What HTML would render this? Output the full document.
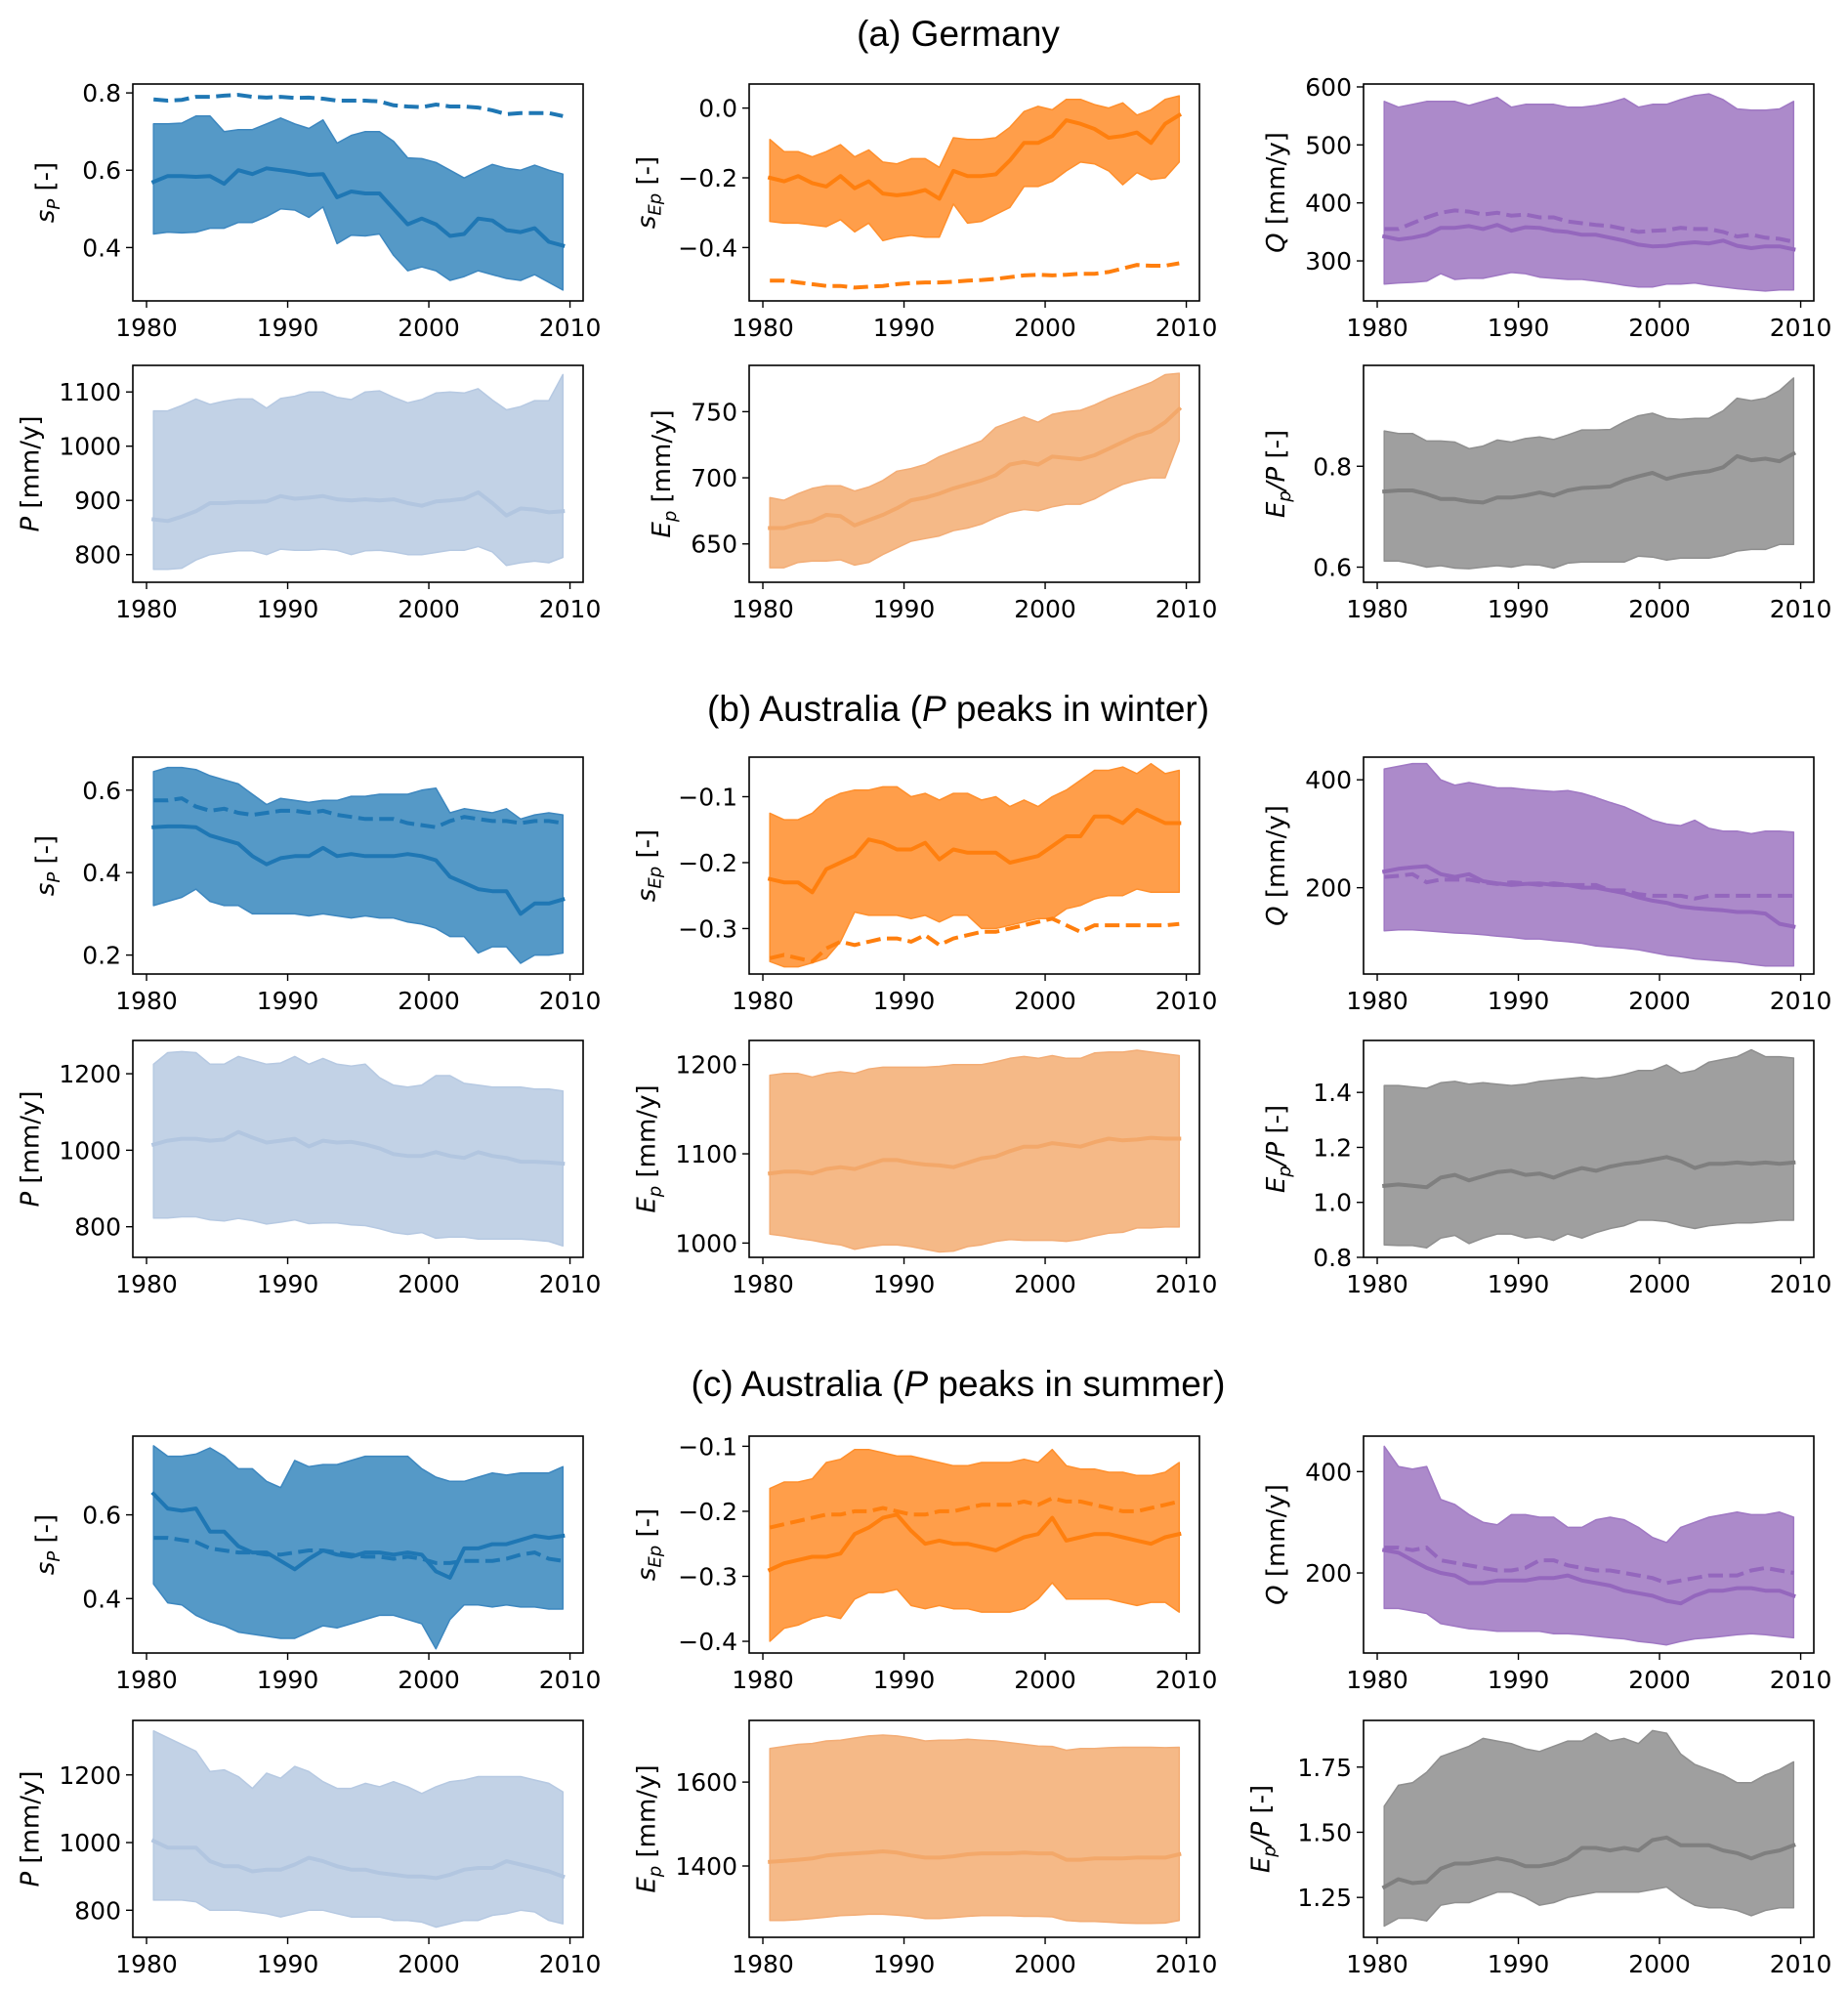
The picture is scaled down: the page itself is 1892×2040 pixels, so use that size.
<!DOCTYPE html>
<html>
<head>
<meta charset="utf-8">
<style>
html,body{margin:0;padding:0;background:#fff;}
svg{display:block;}
text{font-family:"DejaVu Sans","Liberation Sans",sans-serif;}
.title{font-family:"Liberation Sans",sans-serif;font-size:37px;}
</style>
</head>
<body>
<svg id="fig" width="1892" height="2040" viewBox="0 0 1892 2040" xmlns="http://www.w3.org/2000/svg">
<text class="title" x="981" y="47" text-anchor="middle">(a) Germany</text>
<text class="title" x="981" y="738" text-anchor="middle">(b) Australia (<tspan font-style="italic">P</tspan> peaks in winter)</text>
<text class="title" x="981" y="1429" text-anchor="middle">(c) Australia (<tspan font-style="italic">P</tspan> peaks in summer)</text>
</svg>
<script>
// ---------- data ----------
const xTicks = [1980, 1990, 2000, 2010];
const years = [1980.5,1981.5,1982.5,1983.5,1984.5,1985.5,1986.5,1987.5,1988.5,1989.5,1990.5,1991.5,1992.5,1993.5,1994.5,1995.5,1996.5,1997.5,1998.5,1999.5,2000.5,2001.5,2002.5,2003.5,2004.5,2005.5,2006.5,2007.5,2008.5,2009.5];

// (a) Germany
const a1_mid=[0.57,0.585,0.585,0.583,0.585,0.565,0.60,0.59,0.605,0.60,0.595,0.588,0.59,0.53,0.545,0.54,0.54,0.50,0.46,0.475,0.46,0.43,0.435,0.475,0.47,0.445,0.44,0.45,0.415,0.405];
const a1_hi=[0.72,0.72,0.722,0.74,0.74,0.70,0.705,0.705,0.72,0.735,0.72,0.708,0.73,0.67,0.69,0.70,0.70,0.675,0.632,0.63,0.62,0.60,0.58,0.598,0.615,0.605,0.60,0.613,0.60,0.59];
const a1_lo=[0.435,0.44,0.438,0.44,0.45,0.45,0.465,0.465,0.48,0.50,0.497,0.478,0.505,0.41,0.432,0.43,0.435,0.38,0.34,0.35,0.34,0.315,0.325,0.34,0.33,0.32,0.315,0.33,0.31,0.29];
const a1_dash=[0.783,0.78,0.782,0.79,0.79,0.793,0.795,0.79,0.788,0.79,0.787,0.788,0.785,0.78,0.78,0.78,0.778,0.768,0.765,0.763,0.77,0.765,0.765,0.762,0.755,0.745,0.748,0.748,0.748,0.74];
const a1_ticks=[0.4,0.6,0.8];

const a2_mid=[-0.20,-0.21,-0.195,-0.215,-0.225,-0.195,-0.23,-0.21,-0.245,-0.25,-0.245,-0.235,-0.26,-0.18,-0.195,-0.195,-0.19,-0.15,-0.10,-0.10,-0.08,-0.035,-0.045,-0.06,-0.085,-0.08,-0.07,-0.10,-0.045,-0.02];
const a2_hi=[-0.09,-0.125,-0.125,-0.14,-0.125,-0.105,-0.14,-0.12,-0.155,-0.16,-0.145,-0.145,-0.17,-0.085,-0.09,-0.09,-0.085,-0.055,-0.01,0.005,-0.005,0.025,0.025,0.01,0.0,0.015,-0.02,-0.005,0.025,0.035];
const a2_lo=[-0.325,-0.33,-0.33,-0.335,-0.34,-0.32,-0.355,-0.33,-0.38,-0.37,-0.365,-0.37,-0.37,-0.275,-0.33,-0.325,-0.305,-0.285,-0.225,-0.225,-0.21,-0.18,-0.155,-0.16,-0.18,-0.22,-0.185,-0.205,-0.2,-0.155];
const a2_dash=[-0.495,-0.495,-0.50,-0.505,-0.51,-0.51,-0.515,-0.512,-0.51,-0.505,-0.502,-0.50,-0.50,-0.498,-0.495,-0.493,-0.49,-0.485,-0.48,-0.478,-0.48,-0.478,-0.475,-0.475,-0.47,-0.46,-0.45,-0.452,-0.452,-0.445];
const a2_ticks=[-0.4,-0.2,0.0];

const a3_mid=[342,337,340,345,357,357,360,355,362,352,358,357,352,350,345,345,340,335,328,325,326,330,332,330,335,326,322,325,325,320];
const a3_hi=[575,565,570,575,575,575,568,575,582,565,570,570,570,565,565,568,573,580,565,570,570,578,585,588,578,562,560,560,562,575];
const a3_lo=[260,262,263,265,278,268,270,270,275,280,278,272,270,268,268,265,262,258,255,255,260,260,262,258,255,252,250,248,250,250];
const a3_dash=[355,355,365,375,383,387,385,380,383,378,380,375,375,368,365,362,360,355,350,352,353,357,355,355,350,342,345,340,338,333];
const a3_ticks=[300,400,500,600];

const a4_mid=[865,862,870,880,895,895,897,897,898,908,903,905,908,902,900,902,900,902,895,890,898,900,903,915,895,872,885,883,878,880];
const a4_hi=[1065,1065,1075,1087,1077,1083,1087,1087,1070,1088,1092,1100,1100,1090,1086,1100,1102,1090,1080,1086,1098,1100,1098,1106,1085,1067,1073,1084,1084,1132];
const a4_lo=[773,773,775,790,800,804,807,807,800,810,808,808,810,808,800,807,808,805,800,800,804,808,808,815,805,780,785,788,785,795];
const a4_ticks=[800,900,1000,1100];

const a5_mid=[662,662,665,667,672,671,664,668,672,677,683,685,688,692,695,698,702,710,712,710,716,715,714,717,722,727,732,735,742,752];
const a5_hi=[685,683,688,692,694,694,690,693,698,705,707,710,716,720,724,728,738,742,746,742,748,750,751,755,760,764,768,772,778,779];
const a5_lo=[632,632,636,637,637,638,634,636,642,647,652,654,656,660,662,665,670,674,676,675,678,680,680,684,690,695,698,700,700,728];
const a5_ticks=[650,700,750];

const a6_mid=[0.75,0.752,0.752,0.745,0.735,0.735,0.73,0.728,0.738,0.738,0.742,0.748,0.742,0.752,0.757,0.758,0.76,0.772,0.78,0.787,0.775,0.782,0.787,0.79,0.798,0.82,0.812,0.815,0.81,0.825];
const a6_hi=[0.87,0.865,0.865,0.85,0.85,0.848,0.835,0.84,0.852,0.848,0.855,0.858,0.853,0.862,0.872,0.872,0.873,0.888,0.9,0.905,0.895,0.893,0.895,0.895,0.91,0.935,0.93,0.935,0.95,0.975];
const a6_lo=[0.612,0.612,0.607,0.6,0.603,0.598,0.597,0.6,0.603,0.6,0.605,0.604,0.598,0.608,0.61,0.61,0.61,0.61,0.622,0.62,0.614,0.618,0.618,0.618,0.623,0.632,0.635,0.635,0.645,0.645];
const a6_ticks=[0.6,0.8];

// (b) Australia winter
const b1_mid=[0.51,0.512,0.512,0.51,0.49,0.48,0.47,0.44,0.42,0.435,0.44,0.44,0.46,0.44,0.445,0.44,0.44,0.44,0.445,0.44,0.43,0.39,0.375,0.36,0.355,0.355,0.30,0.325,0.325,0.335];
const b1_hi=[0.645,0.655,0.655,0.65,0.635,0.625,0.615,0.59,0.565,0.58,0.575,0.57,0.575,0.575,0.585,0.585,0.59,0.59,0.59,0.6,0.605,0.545,0.555,0.55,0.545,0.555,0.53,0.54,0.545,0.54];
const b1_lo=[0.32,0.33,0.34,0.36,0.33,0.32,0.32,0.3,0.3,0.3,0.3,0.295,0.3,0.295,0.29,0.295,0.29,0.29,0.28,0.275,0.265,0.245,0.245,0.205,0.22,0.22,0.18,0.2,0.2,0.205];
const b1_dash=[0.575,0.575,0.58,0.56,0.55,0.555,0.545,0.54,0.545,0.55,0.55,0.545,0.55,0.54,0.535,0.53,0.53,0.53,0.52,0.515,0.51,0.525,0.535,0.53,0.525,0.525,0.52,0.525,0.525,0.52];
const b1_ticks=[0.2,0.4,0.6];

const b2_mid=[-0.225,-0.23,-0.23,-0.245,-0.21,-0.2,-0.19,-0.165,-0.17,-0.18,-0.18,-0.17,-0.195,-0.18,-0.185,-0.185,-0.185,-0.2,-0.195,-0.19,-0.175,-0.16,-0.16,-0.13,-0.13,-0.14,-0.12,-0.13,-0.14,-0.14];
const b2_hi=[-0.125,-0.135,-0.135,-0.125,-0.105,-0.095,-0.09,-0.09,-0.085,-0.085,-0.1,-0.095,-0.105,-0.095,-0.095,-0.105,-0.1,-0.115,-0.105,-0.115,-0.1,-0.09,-0.075,-0.06,-0.06,-0.055,-0.065,-0.05,-0.065,-0.06];
const b2_lo=[-0.35,-0.358,-0.358,-0.352,-0.345,-0.32,-0.275,-0.28,-0.28,-0.28,-0.285,-0.28,-0.29,-0.28,-0.28,-0.3,-0.3,-0.295,-0.29,-0.285,-0.285,-0.27,-0.265,-0.255,-0.25,-0.25,-0.24,-0.245,-0.245,-0.245];
const b2_dash=[-0.345,-0.34,-0.345,-0.35,-0.33,-0.32,-0.325,-0.32,-0.315,-0.315,-0.32,-0.31,-0.325,-0.315,-0.31,-0.305,-0.305,-0.3,-0.295,-0.29,-0.285,-0.295,-0.305,-0.295,-0.295,-0.295,-0.295,-0.295,-0.295,-0.293];
const b2_ticks=[-0.3,-0.2,-0.1];

const b3_mid=[230,235,238,240,225,220,225,212,208,205,207,208,205,205,200,200,195,190,182,176,172,165,162,160,158,155,155,152,133,128];
const b3_hi=[420,425,430,430,400,390,395,390,385,385,382,380,378,380,375,367,358,350,338,325,318,315,325,310,305,305,300,305,305,303];
const b3_lo=[120,122,122,120,118,116,115,113,110,108,105,105,102,100,97,92,90,88,85,80,75,72,68,66,64,62,58,55,55,55];
const b3_dash=[220,222,225,210,215,215,215,210,207,210,208,205,208,205,205,205,195,195,188,185,185,185,180,185,185,185,185,185,185,185];
const b3_ticks=[200,400];

const b4_mid=[1015,1025,1030,1030,1025,1028,1048,1033,1020,1025,1030,1010,1025,1020,1022,1015,1005,990,985,985,995,985,980,995,985,980,970,970,968,965];
const b4_hi=[1225,1255,1258,1255,1225,1225,1245,1235,1225,1228,1245,1225,1240,1225,1220,1225,1190,1170,1165,1170,1195,1195,1175,1170,1165,1165,1165,1160,1160,1155];
const b4_lo=[823,823,826,826,818,815,822,816,807,812,818,808,810,810,805,803,795,785,780,785,770,773,773,768,768,768,768,765,762,750];
const b4_ticks=[800,1000,1200];

const b5_mid=[1078,1080,1080,1078,1083,1085,1083,1088,1093,1093,1090,1088,1087,1085,1090,1095,1097,1103,1108,1108,1112,1110,1108,1113,1117,1115,1116,1118,1117,1117];
const b5_hi=[1188,1190,1190,1186,1190,1192,1190,1195,1197,1197,1197,1197,1198,1200,1200,1200,1203,1207,1209,1207,1210,1207,1207,1213,1214,1214,1216,1214,1212,1210];
const b5_lo=[1010,1008,1005,1003,1000,998,993,996,998,998,996,993,990,991,996,998,1002,1004,1003,1003,1003,1002,1004,1008,1011,1012,1017,1017,1018,1018];
const b5_ticks=[1000,1100,1200];

const b6_mid=[1.06,1.065,1.06,1.055,1.09,1.1,1.08,1.095,1.11,1.115,1.1,1.105,1.09,1.11,1.125,1.115,1.13,1.14,1.145,1.155,1.165,1.15,1.125,1.14,1.14,1.145,1.14,1.145,1.14,1.145];
const b6_hi=[1.425,1.425,1.42,1.415,1.435,1.44,1.43,1.435,1.43,1.425,1.43,1.44,1.445,1.45,1.455,1.45,1.455,1.465,1.48,1.48,1.5,1.47,1.48,1.51,1.52,1.53,1.555,1.53,1.53,1.525];
const b6_lo=[0.845,0.843,0.843,0.835,0.87,0.88,0.85,0.87,0.885,0.885,0.87,0.875,0.862,0.885,0.87,0.89,0.905,0.915,0.935,0.935,0.93,0.915,0.905,0.915,0.92,0.925,0.925,0.93,0.935,0.935];
const b6_ticks=[0.8,1.0,1.2,1.4];

// (c) Australia summer
const c1_mid=[0.65,0.615,0.61,0.615,0.56,0.56,0.525,0.51,0.51,0.49,0.47,0.495,0.515,0.505,0.5,0.51,0.51,0.505,0.51,0.505,0.465,0.45,0.52,0.52,0.53,0.53,0.54,0.55,0.545,0.55];
const c1_hi=[0.765,0.74,0.74,0.745,0.76,0.74,0.71,0.71,0.68,0.665,0.73,0.715,0.72,0.72,0.73,0.74,0.74,0.74,0.74,0.71,0.69,0.68,0.68,0.69,0.7,0.695,0.7,0.7,0.7,0.715];
const c1_lo=[0.435,0.39,0.385,0.36,0.345,0.335,0.32,0.315,0.31,0.305,0.305,0.32,0.335,0.33,0.34,0.35,0.36,0.36,0.35,0.34,0.28,0.35,0.385,0.385,0.38,0.385,0.38,0.38,0.375,0.375];
const c1_dash=[0.545,0.545,0.54,0.535,0.52,0.515,0.51,0.51,0.505,0.505,0.51,0.515,0.515,0.51,0.505,0.5,0.5,0.495,0.5,0.495,0.485,0.485,0.49,0.49,0.49,0.495,0.505,0.51,0.495,0.49];
const c1_ticks=[0.4,0.6];

const c2_mid=[-0.29,-0.28,-0.275,-0.27,-0.27,-0.265,-0.235,-0.225,-0.21,-0.205,-0.23,-0.25,-0.245,-0.25,-0.25,-0.255,-0.26,-0.25,-0.24,-0.235,-0.21,-0.245,-0.24,-0.235,-0.235,-0.24,-0.245,-0.25,-0.24,-0.235];
const c2_hi=[-0.165,-0.155,-0.155,-0.15,-0.125,-0.12,-0.105,-0.105,-0.11,-0.115,-0.115,-0.12,-0.125,-0.13,-0.13,-0.125,-0.125,-0.125,-0.12,-0.125,-0.105,-0.13,-0.135,-0.135,-0.14,-0.14,-0.145,-0.145,-0.14,-0.125];
const c2_lo=[-0.4,-0.38,-0.375,-0.365,-0.36,-0.365,-0.335,-0.325,-0.325,-0.32,-0.345,-0.35,-0.345,-0.35,-0.35,-0.355,-0.355,-0.355,-0.35,-0.335,-0.31,-0.335,-0.335,-0.335,-0.335,-0.34,-0.345,-0.34,-0.34,-0.355];
const c2_dash=[-0.225,-0.22,-0.215,-0.21,-0.205,-0.205,-0.2,-0.2,-0.195,-0.2,-0.205,-0.205,-0.2,-0.2,-0.195,-0.19,-0.19,-0.19,-0.185,-0.19,-0.18,-0.185,-0.185,-0.19,-0.195,-0.2,-0.2,-0.195,-0.19,-0.185];
const c2_ticks=[-0.4,-0.3,-0.2,-0.1];

const c3_mid=[245,240,225,210,200,195,180,180,185,185,185,190,190,195,185,180,175,165,160,155,145,140,155,165,165,170,170,165,165,155];
const c3_hi=[450,410,405,410,345,335,315,300,295,315,315,310,310,290,290,305,310,305,290,270,260,290,300,310,315,320,315,315,320,310];
const c3_lo=[130,130,125,120,100,95,90,88,85,85,85,85,80,80,78,75,72,70,65,62,58,65,70,72,75,78,80,78,75,72];
const c3_dash=[250,250,245,250,225,220,215,210,205,205,210,225,225,215,210,205,205,200,195,190,180,185,190,195,195,195,205,210,205,200];
const c3_ticks=[200,400];

const c4_mid=[1005,985,985,985,945,930,930,915,920,920,935,955,945,930,920,920,910,905,900,900,895,905,920,925,925,945,935,925,915,900];
const c4_hi=[1330,1310,1290,1270,1210,1215,1195,1160,1205,1190,1225,1210,1180,1160,1160,1175,1165,1180,1165,1145,1165,1180,1185,1195,1195,1195,1195,1185,1175,1150];
const c4_lo=[830,830,830,825,800,800,800,795,790,780,790,800,800,790,780,780,780,770,770,765,750,760,770,770,785,790,800,795,770,760];
const c4_ticks=[800,1000,1200];

const c5_mid=[1410,1412,1415,1418,1425,1428,1430,1432,1435,1432,1425,1420,1420,1423,1428,1430,1430,1430,1432,1430,1430,1415,1415,1418,1418,1418,1420,1420,1420,1428];
const c5_hi=[1680,1685,1690,1692,1698,1700,1705,1710,1712,1710,1705,1698,1700,1700,1702,1700,1698,1694,1690,1686,1685,1676,1680,1680,1682,1683,1683,1683,1682,1683];
const c5_lo=[1270,1270,1272,1275,1278,1282,1283,1285,1285,1283,1280,1275,1275,1277,1280,1282,1282,1282,1280,1280,1279,1270,1268,1268,1266,1264,1263,1263,1264,1270];
const c5_ticks=[1400,1600];

const c6_mid=[1.29,1.32,1.305,1.31,1.36,1.38,1.38,1.39,1.4,1.39,1.37,1.37,1.38,1.4,1.44,1.44,1.43,1.44,1.43,1.47,1.48,1.45,1.45,1.45,1.43,1.42,1.4,1.42,1.43,1.45];
const c6_hi=[1.6,1.68,1.69,1.73,1.79,1.81,1.83,1.86,1.85,1.84,1.82,1.81,1.83,1.85,1.85,1.88,1.85,1.86,1.84,1.89,1.88,1.8,1.76,1.74,1.72,1.69,1.69,1.72,1.74,1.77];
const c6_lo=[1.14,1.17,1.17,1.16,1.22,1.23,1.23,1.25,1.27,1.27,1.25,1.22,1.23,1.25,1.26,1.27,1.27,1.27,1.27,1.28,1.29,1.25,1.22,1.21,1.21,1.2,1.18,1.2,1.21,1.21];
const c6_ticks=[1.25,1.50,1.75];

// ---------- layout / styles ----------
const COLS=[136,767,1396], AW=461, AH=222;
const ROWS=[86,374,775,1065,1470,1761];
const XLIM=[1979.03,2010.93];
const ST={
 sp:{fill:'#5599c7',edge:'#3d87bf',line:'#1f77b4'},
 sep:{fill:'#ff9e4a',edge:'#ff8f2c',line:'#ff7f0e'},
 q:{fill:'#ac8aca',edge:'#9f78c3',line:'#9467bd'},
 p:{fill:'#c2d2e6',edge:'#b6c9e2',line:'#b2c6e0'},
 ep:{fill:'#f5b987',edge:'#f3ad76',line:'#f3a86a'},
 r:{fill:'#9f9f9f',edge:'#8f8f8f',line:'#7f7f7f'}
};
const LBL={
 sp:'<tspan font-style="italic">s</tspan><tspan font-style="italic" font-size="18" dy="6">P</tspan><tspan dy="-6"> [-]</tspan>',
 sep:'<tspan font-style="italic">s</tspan><tspan font-style="italic" font-size="18" dy="6">Ep</tspan><tspan dy="-6"> [-]</tspan>',
 q:'<tspan font-style="italic">Q</tspan> [mm/y]',
 p:'<tspan font-style="italic">P</tspan> [mm/y]',
 ep:'<tspan font-style="italic">E</tspan><tspan font-style="italic" font-size="18" dy="6">p</tspan><tspan dy="-6"> [mm/y]</tspan>',
 r:'<tspan font-style="italic">E</tspan><tspan font-style="italic" font-size="18" dy="6">p</tspan><tspan dy="-6" font-style="italic">/P</tspan> [-]'
};
const panels=[
 {id:'a1',r:0,c:0,k:'sp',y:[0.262,0.823],mid:a1_mid,hi:a1_hi,lo:a1_lo,dash:a1_dash,t:a1_ticks,d:1},
 {id:'a2',r:0,c:1,k:'sep',y:[-0.553,0.069],mid:a2_mid,hi:a2_hi,lo:a2_lo,dash:a2_dash,t:a2_ticks,d:1},
 {id:'a3',r:0,c:2,k:'q',y:[231,605],mid:a3_mid,hi:a3_hi,lo:a3_lo,dash:a3_dash,t:a3_ticks,d:0},
 {id:'a4',r:1,c:0,k:'p',y:[749,1149],mid:a4_mid,hi:a4_hi,lo:a4_lo,t:a4_ticks,d:0},
 {id:'a5',r:1,c:1,k:'ep',y:[621,785],mid:a5_mid,hi:a5_hi,lo:a5_lo,t:a5_ticks,d:0},
 {id:'a6',r:1,c:2,k:'r',y:[0.57,1.0],mid:a6_mid,hi:a6_hi,lo:a6_lo,t:a6_ticks,d:1},
 {id:'b1',r:2,c:0,k:'sp',y:[0.154,0.68],mid:b1_mid,hi:b1_hi,lo:b1_lo,dash:b1_dash,t:b1_ticks,d:1},
 {id:'b2',r:2,c:1,k:'sep',y:[-0.369,-0.040],mid:b2_mid,hi:b2_hi,lo:b2_lo,dash:b2_dash,t:b2_ticks,d:1},
 {id:'b3',r:2,c:2,k:'q',y:[40,442],mid:b3_mid,hi:b3_hi,lo:b3_lo,dash:b3_dash,t:b3_ticks,d:0},
 {id:'b4',r:3,c:0,k:'p',y:[720,1287],mid:b4_mid,hi:b4_hi,lo:b4_lo,t:b4_ticks,d:0},
 {id:'b5',r:3,c:1,k:'ep',y:[984,1227],mid:b5_mid,hi:b5_hi,lo:b5_lo,t:b5_ticks,d:0},
 {id:'b6',r:3,c:2,k:'r',y:[0.8,1.589],mid:b6_mid,hi:b6_hi,lo:b6_lo,t:b6_ticks,d:1},
 {id:'c1',r:4,c:0,k:'sp',y:[0.27,0.788],mid:c1_mid,hi:c1_hi,lo:c1_lo,dash:c1_dash,t:c1_ticks,d:1},
 {id:'c2',r:4,c:1,k:'sep',y:[-0.418,-0.0844],mid:c2_mid,hi:c2_hi,lo:c2_lo,dash:c2_dash,t:c2_ticks,d:1},
 {id:'c3',r:4,c:2,k:'q',y:[42,470],mid:c3_mid,hi:c3_hi,lo:c3_lo,dash:c3_dash,t:c3_ticks,d:0},
 {id:'c4',r:5,c:0,k:'p',y:[720,1361],mid:c4_mid,hi:c4_hi,lo:c4_lo,t:c4_ticks,d:0},
 {id:'c5',r:5,c:1,k:'ep',y:[1230,1747],mid:c5_mid,hi:c5_hi,lo:c5_lo,t:c5_ticks,d:0},
 {id:'c6',r:5,c:2,k:'r',y:[1.097,1.929],mid:c6_mid,hi:c6_hi,lo:c6_lo,t:c6_ticks,d:2}
];

const NS='http://www.w3.org/2000/svg';
const svg=document.getElementById('fig');
function mk(tag,attrs,parent){const e=document.createElementNS(NS,tag);for(const k in attrs)e.setAttribute(k,attrs[k]);(parent||svg).appendChild(e);return e;}
function fmt(v,d){let s=v.toFixed(d);return s.replace('-','\u2212');}

panels.forEach(p=>{
 const L=COLS[p.c], T=ROWS[p.r], R=L+AW, B=T+AH;
 const sx=v=>L+(v-XLIM[0])/(XLIM[1]-XLIM[0])*AW;
 const sy=v=>B-(v-p.y[0])/(p.y[1]-p.y[0])*AH;
 const st=ST[p.k];
 const g=mk('g',{});
 
 
 let d='M'+years.map((yr,i)=>sx(yr).toFixed(1)+','+sy(p.hi[i]).toFixed(1)).join('L');
 for(let i=years.length-1;i>=0;i--) d+='L'+sx(years[i]).toFixed(1)+','+sy(p.lo[i]).toFixed(1);
 d+='Z';
 const band=mk('path',{d:d,fill:st.fill,stroke:st.edge,'stroke-width':1.5,'stroke-linejoin':'round'},g);
 
 
 const ml=mk('polyline',{points:years.map((yr,i)=>sx(yr).toFixed(1)+','+sy(p.mid[i]).toFixed(1)).join(' '),fill:'none',stroke:st.line,'stroke-width':4,'stroke-linejoin':'round','stroke-linecap':'square'},g);
 
 
 if(p.dash){
  const dl=mk('polyline',{points:years.map((yr,i)=>sx(yr).toFixed(1)+','+sy(p.dash[i]).toFixed(1)).join(' '),fill:'none',stroke:st.line,'stroke-width':4,'stroke-dasharray':'15,6.5'},g);
  
  
 }
 const fr=mk('rect',{x:L,y:T,width:AW,height:AH,fill:'none',stroke:'#000','stroke-width':1.6},g);
 
 
 xTicks.forEach(t=>{
  const x=sx(t);
  mk('line',{x1:x,y1:B,x2:x,y2:B+7,stroke:'#000','stroke-width':1.4},g);
  const tx=mk('text',{x:x,y:B+36,'text-anchor':'middle','font-size':25},g);
  tx.textContent=t;
  
  
 });
 let maxw=0;
 p.t.forEach(t=>{
  const y=sy(t);
  mk('line',{x1:L,y1:y,x2:L-7,y2:y,stroke:'#000','stroke-width':1.4},g);
  const s=fmt(t,p.d);
  maxw=Math.max(maxw,s.length*15.6);
  const ty=mk('text',{x:L-12,y:y+9,'text-anchor':'end','font-size':25},g);
  ty.textContent=s;
  
  
 });
 const lx=L-12-maxw-22, ly=(T+B)/2;
 const yl=mk('text',{x:lx,y:ly,'text-anchor':'middle','font-size':26,transform:'rotate(-90 '+lx+' '+ly+')'},g);
 yl.innerHTML=LBL[p.k];
 
 
});
</script>
</body>
</html>
